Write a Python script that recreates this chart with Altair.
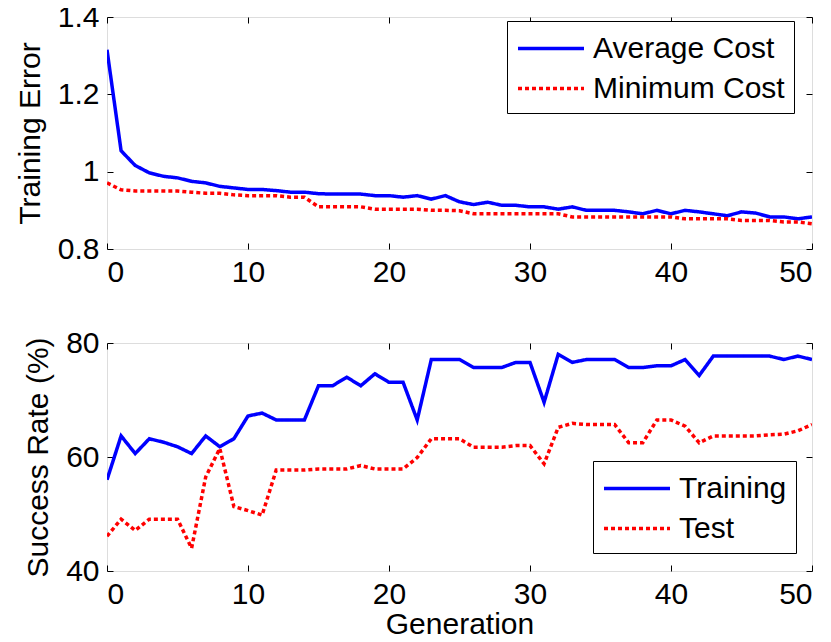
import altair as alt
import pandas as pd

FONT = "Liberation Sans"

generations = list(range(51))

average_cost = [1.315, 1.054, 1.016, 0.997, 0.988, 0.984, 0.975, 0.971, 0.962, 0.958,
                0.954, 0.954, 0.951, 0.947, 0.947, 0.943, 0.942, 0.942, 0.942, 0.938,
                0.938, 0.934, 0.938, 0.929, 0.938, 0.922, 0.915, 0.921, 0.913, 0.913,
                0.909, 0.909, 0.903, 0.909, 0.900, 0.900, 0.900, 0.896, 0.891, 0.900,
                0.891, 0.900, 0.896, 0.891, 0.886, 0.896, 0.893, 0.883, 0.883, 0.878,
                0.883]
minimum_cost = [0.971, 0.953, 0.950, 0.950, 0.950, 0.950, 0.947, 0.944, 0.944, 0.940,
                0.938, 0.938, 0.938, 0.934, 0.934, 0.909, 0.909, 0.909, 0.909, 0.903,
                0.903, 0.903, 0.903, 0.900, 0.900, 0.899, 0.891, 0.891, 0.891, 0.891,
                0.891, 0.891, 0.891, 0.883, 0.883, 0.883, 0.883, 0.883, 0.883, 0.883,
                0.883, 0.878, 0.878, 0.878, 0.878, 0.874, 0.874, 0.874, 0.870, 0.870,
                0.865]
training = [56.0, 63.7, 60.6, 63.2, 62.6, 61.8, 60.6, 63.7, 61.8, 63.2,
            67.2, 67.7, 66.5, 66.5, 66.5, 72.5, 72.5, 74.0, 72.5, 74.6,
            73.1, 73.1, 66.5, 77.1, 77.1, 77.1, 75.7, 75.7, 75.7, 76.6,
            76.6, 69.6, 78.0, 76.6, 77.1, 77.1, 77.1, 75.7, 75.7, 76.0,
            76.0, 77.1, 74.3, 77.7, 77.7, 77.7, 77.7, 77.7, 77.1, 77.7,
            77.1]
test = [46.1, 49.1, 47.1, 49.1, 49.1, 49.1, 44.0, 56.5, 61.5, 51.3,
        50.6, 49.8, 57.7, 57.7, 57.7, 57.9, 57.9, 57.9, 58.5, 57.9,
        57.9, 57.9, 59.9, 63.2, 63.2, 63.2, 61.7, 61.7, 61.7, 62.0,
        62.0, 58.8, 65.2, 65.9, 65.7, 65.7, 65.7, 62.5, 62.5, 66.5,
        66.5, 65.4, 62.5, 63.7, 63.7, 63.7, 63.7, 63.9, 64.0, 64.6,
        65.7]

x_ticks = [0, 10, 20, 30, 40, 50]
top_y_ticks = [0.8, 1.0, 1.2, 1.4]
bottom_y_ticks = [40, 60, 80]
top_series = ["Average Cost", "Minimum Cost"]
bottom_series = ["Training", "Test"]

df_top = pd.concat([
    pd.DataFrame({"gen": generations, "value": average_cost, "series": top_series[0]}),
    pd.DataFrame({"gen": generations, "value": minimum_cost, "series": top_series[1]}),
])
df_bottom = pd.concat([
    pd.DataFrame({"gen": generations, "value": training, "series": bottom_series[0]}),
    pd.DataFrame({"gen": generations, "value": test, "series": bottom_series[1]}),
])

W = 705
H_TOP = 232
H_BOT = 228
TICK = 6

COLORS = ["#0000ff", "#ff0000"]
DASHES = [[1, 0], [4, 3]]


def legend(x, y):
    return alt.Legend(
        title=None, orient="none", legendX=x, legendY=y,
        strokeColor="black", fillColor="white", padding=9,
        labelFont=FONT, labelFontSize=30, labelColor="black", labelOffset=40,
        labelLimit=400, symbolType="M-1,0H3", symbolSize=1089,
        symbolStrokeWidth=3.5, rowPadding=6, cornerRadius=0,
    )


def panel(df, series, ytitle, ydomain, yticks, yfmt, h, show_xtitle, lx, ly):
    xaxis = alt.Axis(
        values=x_ticks, title="Generation" if show_xtitle else "",
        labelFont=FONT, labelFontSize=30, labelColor="black", labelPadding=8,
        titleFont=FONT, titleFontSize=30, titleFontWeight="normal", titleColor="black",
        titlePadding=0,
        ticks=False, domain=False, grid=True, gridColor="black", gridOpacity=1,
        gridWidth=1, gridDash=[TICK, h - 2 * TICK, TICK, 0],
    )
    yaxis = alt.Axis(
        values=yticks, title=ytitle, format=yfmt,
        labelFont=FONT, labelFontSize=30, labelColor="black", labelPadding=8,
        titleFont=FONT, titleFontSize=30, titleFontWeight="normal", titleColor="black",
        titlePadding=12,
        ticks=False, domain=False, grid=True, gridColor="black", gridOpacity=1,
        gridWidth=1, gridDash=[TICK, W - 2 * TICK, TICK, 0],
    )
    return alt.Chart(df).mark_line(strokeWidth=3.5, strokeCap="butt", clip=True).encode(
        x=alt.X("gen:Q", scale=alt.Scale(domain=[0, 50], nice=False, zero=False), axis=xaxis),
        y=alt.Y("value:Q", scale=alt.Scale(domain=ydomain, nice=False, zero=False), axis=yaxis),
        color=alt.Color("series:N", scale=alt.Scale(domain=series, range=COLORS),
                        legend=legend(lx, ly)),
        strokeDash=alt.StrokeDash("series:N", scale=alt.Scale(domain=series, range=DASHES),
                                  legend=legend(lx, ly)),
    ).properties(width=W, height=h)


top = panel(df_top, top_series, "Training Error", [0.8, 1.4], top_y_ticks, "~g",
            H_TOP, False, 400, 4)
bottom = panel(df_bottom, bottom_series, "Success Rate (%)", [40, 80], bottom_y_ticks, "d",
               H_BOT, True, 486, 118)

chart = alt.vconcat(top, bottom, spacing=39).resolve_scale(
    color="independent", strokeDash="independent"
).properties(
    padding={"left": 6, "top": -7, "right": 0, "bottom": 0}
).configure_view(
    stroke="black", strokeWidth=1
).configure(background="white")

chart.save("out.html", embed_options={"renderer": "svg", "actions": False})
